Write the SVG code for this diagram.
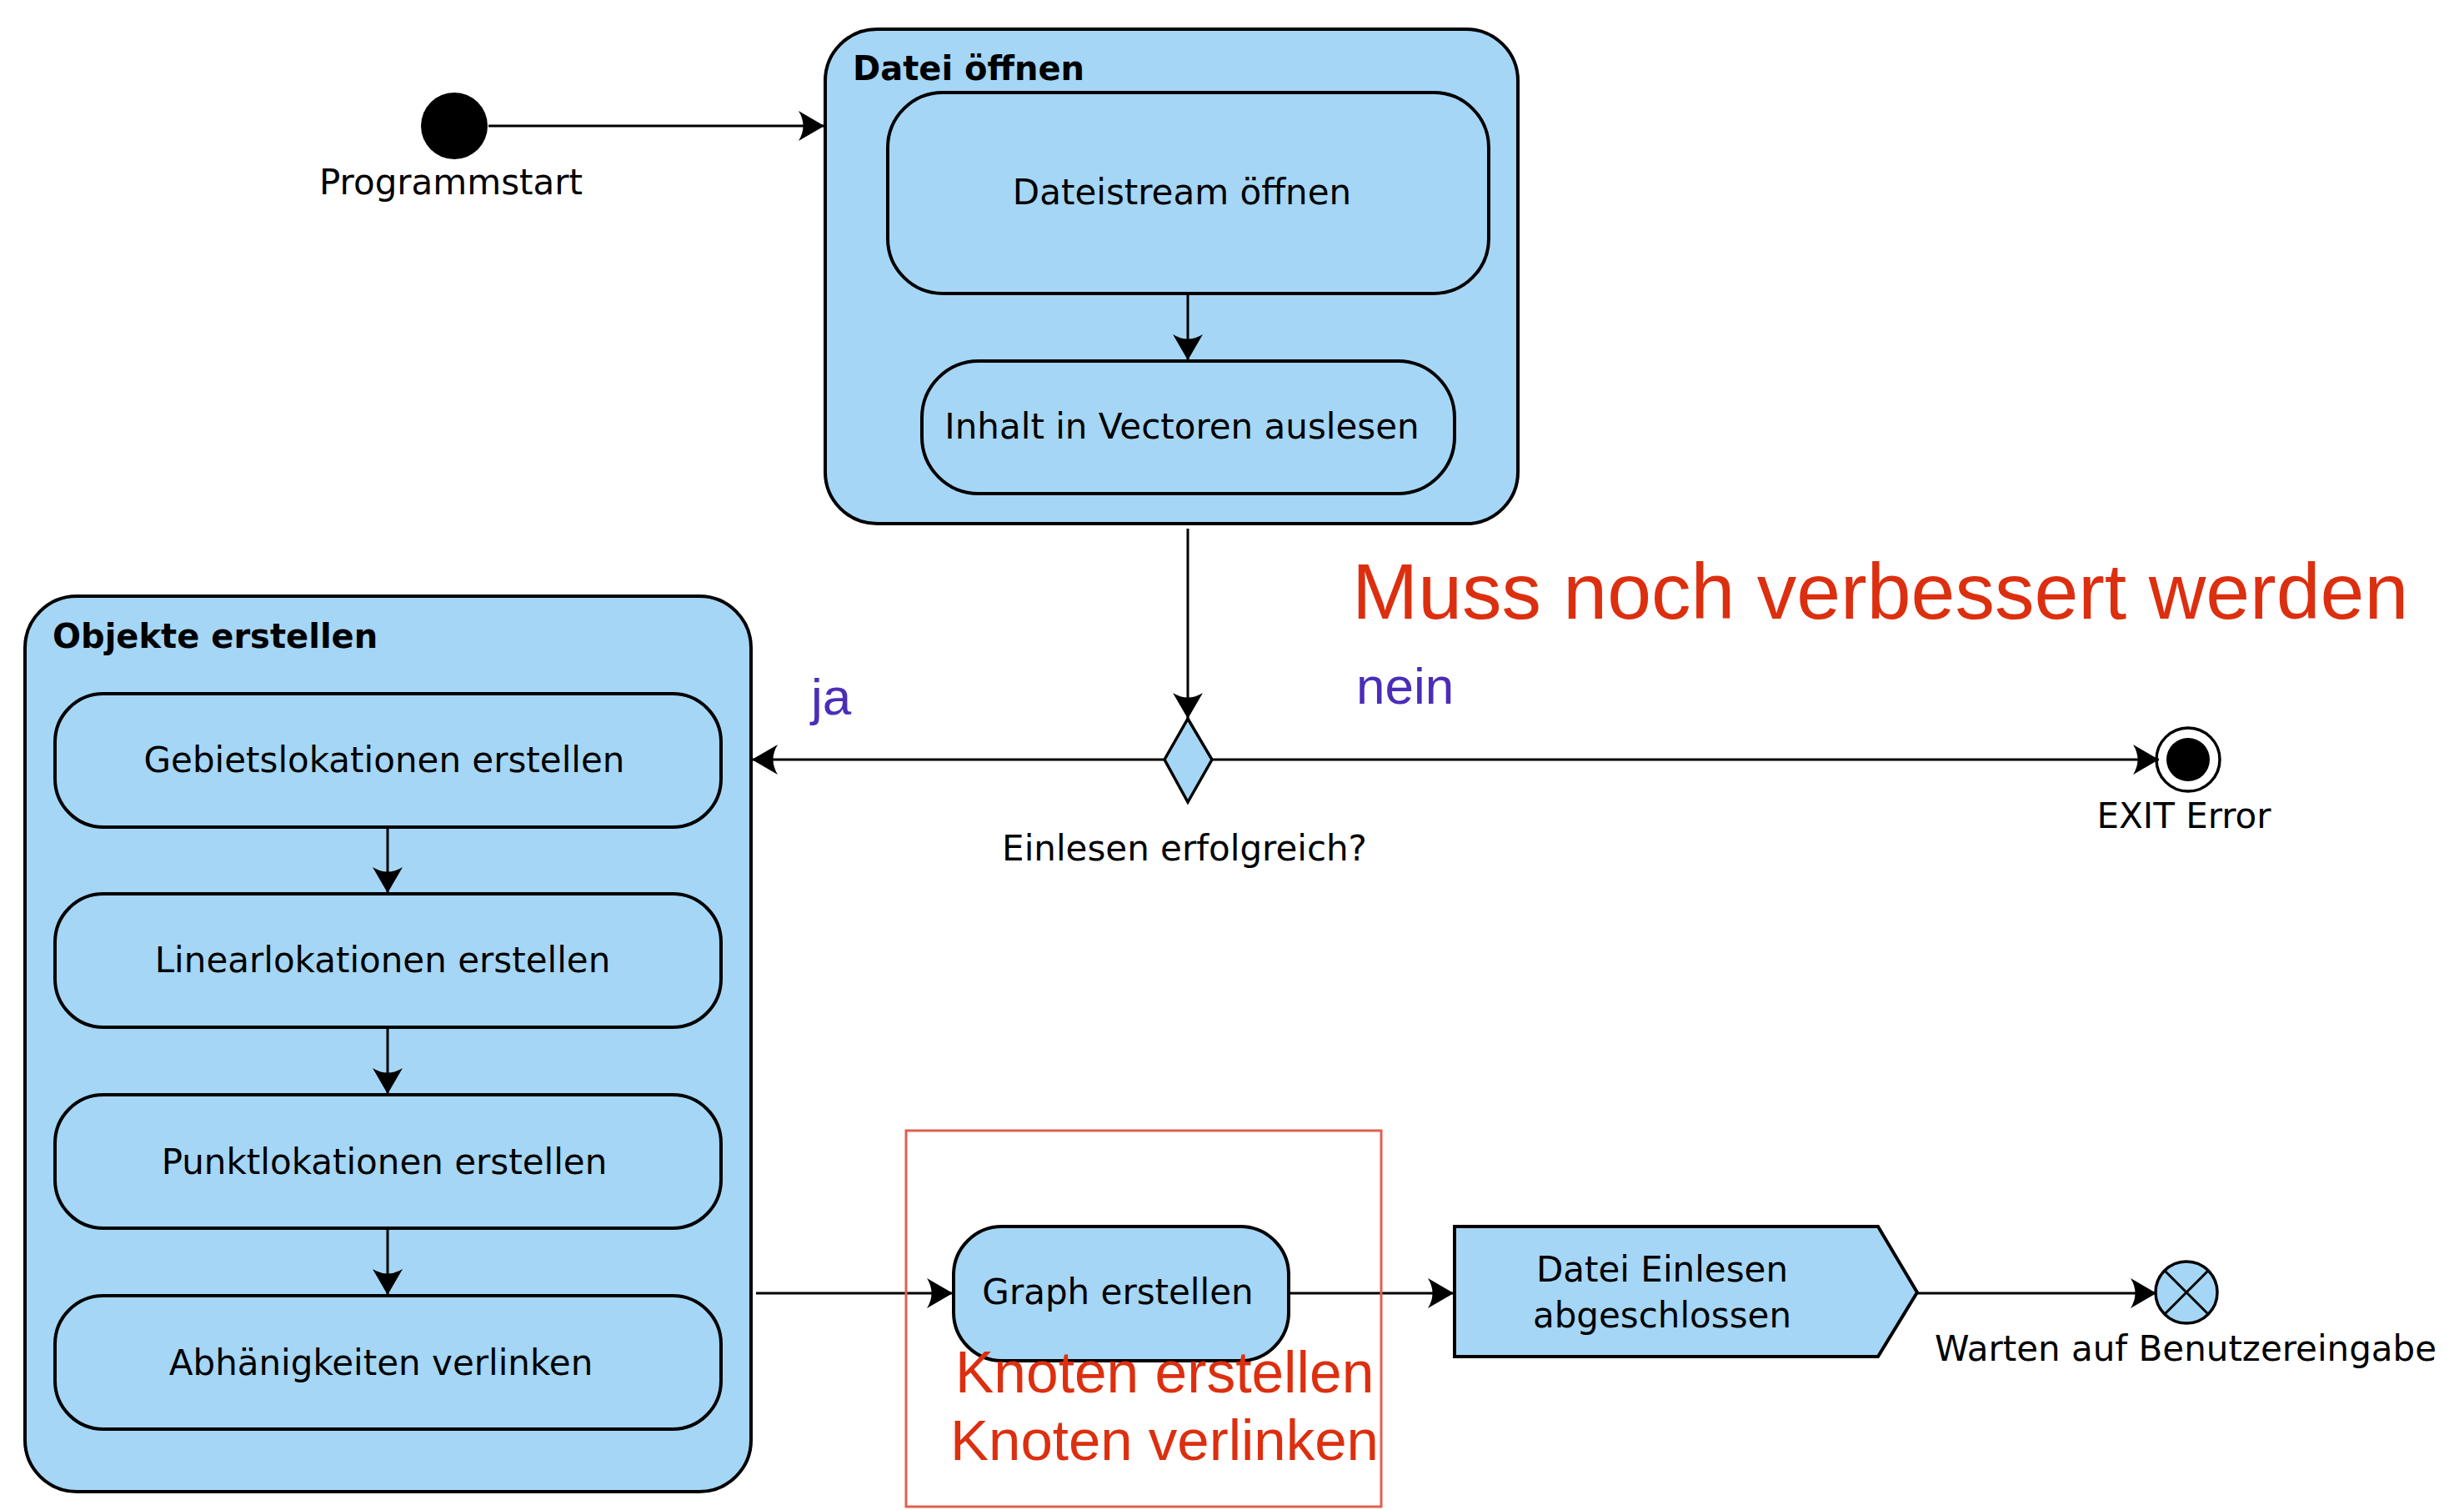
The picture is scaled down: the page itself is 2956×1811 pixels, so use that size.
<svg xmlns="http://www.w3.org/2000/svg" width="2956" height="1811" viewBox="0 0 2956 1811">
<style>
.box{fill:#a5d6f5;stroke:#000;stroke-width:4}
.lbl{font-family:"DejaVu Sans",sans-serif;font-size:42px;fill:#000}
.ttl{font-family:"DejaVu Sans",sans-serif;font-size:40px;font-weight:bold;fill:#000}
.c{text-anchor:middle}
.con{stroke:#000;stroke-width:3;fill:none}
.red{font-family:"Liberation Sans",Arial,sans-serif;fill:#dc2f0f}
.blu{font-family:"Liberation Sans",Arial,sans-serif;fill:#4b2db8;font-size:62px}
</style>
<defs>
<marker id="arr" markerUnits="userSpaceOnUse" viewBox="-32 -20 34 40" refX="0" refY="0" markerWidth="34" markerHeight="40" orient="auto">
<path d="M0,0 L-31,-18 Q-20,0 -31,18 Z" fill="#000"/>
</marker>
</defs>
<rect width="2956" height="1811" fill="#fff"/>

<g id="start">
<circle cx="545" cy="151" r="40" fill="#000"/>
<text class="lbl c" x="541" y="233">Programmstart</text>
</g>

<g id="datei-oeffnen">
<rect class="box" x="990" y="35" width="831" height="593" rx="62"/>
<text class="ttl" x="1023" y="96">Datei öffnen</text>
</g>
<g id="dateistream">
<rect class="box" x="1065" y="111" width="721" height="241" rx="66"/>
<text class="lbl c" x="1418" y="245">Dateistream öffnen</text>
</g>
<g id="inhalt">
<rect class="box" x="1106" y="433" width="639" height="159" rx="68"/>
<text class="lbl c" x="1418" y="526">Inhalt in Vectoren auslesen</text>
</g>

<g id="decision">
<path d="M1425,862 L1454,911 L1425,962 L1397,911 Z" fill="#a5d6f5" stroke="#000" stroke-width="3.5" stroke-linejoin="miter"/>
<text class="lbl c" x="1421" y="1032">Einlesen erfolgreich?</text>
</g>

<g id="exit-error">
<circle cx="2625" cy="911" r="38" fill="#fff" stroke="#000" stroke-width="3.5"/>
<circle cx="2625" cy="911" r="26" fill="#000"/>
<text class="lbl c" x="2620" y="993">EXIT Error</text>
</g>

<g id="objekte-erstellen">
<rect class="box" x="30" y="715" width="871" height="1074" rx="62"/>
<text class="ttl" x="63" y="777">Objekte erstellen</text>
</g>
<g id="gebiet">
<rect class="box" x="66" y="832" width="799" height="160" rx="58"/>
<text class="lbl c" x="461" y="926">Gebietslokationen erstellen</text>
</g>
<g id="linear">
<rect class="box" x="66" y="1072" width="799" height="160" rx="58"/>
<text class="lbl c" x="459" y="1166">Linearlokationen erstellen</text>
</g>
<g id="punkt">
<rect class="box" x="66" y="1313" width="799" height="160" rx="58"/>
<text class="lbl c" x="461" y="1408">Punktlokationen erstellen</text>
</g>
<g id="abh">
<rect class="box" x="66" y="1554" width="799" height="160" rx="58"/>
<text class="lbl c" x="457" y="1649">Abhänigkeiten verlinken</text>
</g>

<g id="graph">
<rect class="box" x="1144" y="1471" width="402" height="161" rx="58"/>
<text class="lbl c" x="1341" y="1564">Graph erstellen</text>
</g>

<g id="datei-einlesen">
<path class="box" d="M1745,1471 L2253,1471 L2300,1550 L2253,1627 L1745,1627 Z"/>
<text class="lbl c" x="1994" y="1537">Datei Einlesen</text>
<text class="lbl c" x="1994" y="1592">abgeschlossen</text>
</g>

<g id="flow-final">
<circle cx="2623" cy="1550" r="37" fill="#a5d6f5" stroke="#000" stroke-width="3.5"/>
<path d="M2597,1524 L2649,1576 M2649,1524 L2597,1576" stroke="#000" stroke-width="3"/>
<text class="lbl c" x="2622" y="1632">Warten auf Benutzereingabe</text>
</g>

<g id="connectors">
<line class="con" x1="586" y1="151" x2="989" y2="151" marker-end="url(#arr)"/>
<line class="con" x1="1425" y1="352" x2="1425" y2="432" marker-end="url(#arr)"/>
<line class="con" x1="1425" y1="634" x2="1425" y2="862" stroke-width="2" marker-end="url(#arr)"/>
<line class="con" x1="1397" y1="911" x2="902" y2="911" marker-end="url(#arr)"/>
<line class="con" x1="1454" y1="911" x2="2590" y2="911" marker-end="url(#arr)"/>
<line class="con" x1="465" y1="992" x2="465" y2="1071" marker-end="url(#arr)"/>
<line class="con" x1="465" y1="1232" x2="465" y2="1312" marker-end="url(#arr)"/>
<line class="con" x1="465" y1="1473" x2="465" y2="1553" marker-end="url(#arr)"/>
<line class="con" x1="907" y1="1551" x2="1143" y2="1551" marker-end="url(#arr)"/>
<line class="con" x1="1546" y1="1551" x2="1744" y2="1551" marker-end="url(#arr)"/>
<line class="con" x1="2300" y1="1551" x2="2587" y2="1551" marker-end="url(#arr)"/>
</g>

<g id="annotations">
<text class="red" x="1622" y="742" font-size="95">Muss noch verbessert werden</text>
<text class="blu" x="973" y="857">ja</text>
<text class="blu" x="1627" y="844">nein</text>
<rect x="1087" y="1356" width="570" height="451" fill="none" stroke="#e0604f" stroke-width="3"/>
<text class="red" x="1146" y="1670" font-size="69.5">Knoten erstellen</text>
<text class="red" x="1140" y="1751" font-size="69">Knoten verlinken</text>
</g>
</svg>
